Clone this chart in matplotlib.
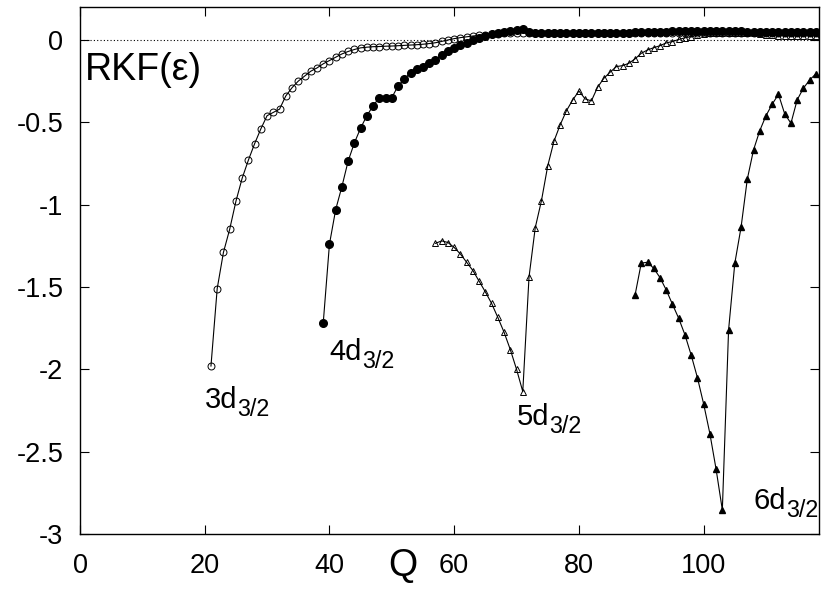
import numpy as np
import matplotlib
matplotlib.use('Agg')
import matplotlib.pyplot as plt

plt.rcParams['font.family'] = ['Liberation Sans', 'DejaVu Sans']

# 3d_{3/2}, Q = 21..118
q3 = np.arange(21, 119)
rkf3 = [-1.98, -1.51, -1.29, -1.15, -0.98, -0.84, -0.73, -0.63, -0.54, -0.46,
        -0.44, -0.42, -0.34, -0.29, -0.25, -0.22, -0.19, -0.17, -0.145, -0.125,
        -0.105, -0.085, -0.07, -0.058, -0.048, -0.044, -0.041, -0.040, -0.038, -0.037,
        -0.035, -0.033, -0.031, -0.029, -0.026, -0.022, -0.017, -0.009, 0.000, 0.008,
        0.014, 0.019, 0.024, 0.028, 0.032, 0.036, 0.039, 0.041, 0.042, 0.043,
        0.043, 0.043, 0.043, 0.043, 0.043, 0.043, 0.043, 0.043, 0.043, 0.043,
        0.043, 0.043, 0.043, 0.043, 0.043, 0.043, 0.043, 0.044, 0.044, 0.044,
        0.044, 0.044, 0.044, 0.044, 0.044, 0.044, 0.045, 0.045, 0.045, 0.045,
        0.045, 0.045, 0.045, 0.045, 0.045, 0.045, 0.045, 0.045, 0.045, 0.045,
        0.045, 0.045, 0.045, 0.045, 0.045, 0.045, 0.045, 0.045]

# 4d_{3/2}, Q = 39..118
q4 = np.arange(39, 119)
rkf4 = [-1.72, -1.24, -1.03, -0.89, -0.735, -0.625, -0.535, -0.46, -0.40, -0.35,
        -0.35, -0.35, -0.28, -0.237, -0.20, -0.178, -0.162, -0.142, -0.12, -0.09,
        -0.067, -0.05, -0.032, -0.018, -0.003, 0.012, 0.026, 0.036, 0.042, 0.047,
        0.052, 0.058, 0.066, 0.05, 0.045, 0.044, 0.044, 0.044, 0.044, 0.044,
        0.044, 0.044, 0.044, 0.044, 0.044, 0.044, 0.044, 0.044, 0.045, 0.045,
        0.046, 0.047, 0.048, 0.049, 0.050, 0.051, 0.052, 0.053, 0.054, 0.055,
        0.055, 0.056, 0.057, 0.057, 0.056, 0.055, 0.053, 0.052, 0.051, 0.051,
        0.050, 0.050, 0.050, 0.050, 0.050, 0.050, 0.050, 0.050, 0.050, 0.050]

# 5d_{3/2}, Q = 57..118
q5 = np.arange(57, 119)
rkf5 = [-1.235, -1.22, -1.23, -1.26, -1.30, -1.35, -1.40, -1.465, -1.53, -1.60,
        -1.685, -1.775, -1.88, -2.00, -2.135, -1.44, -1.14, -0.975, -0.765, -0.615,
        -0.515, -0.43, -0.365, -0.31, -0.358, -0.37, -0.287, -0.233, -0.196, -0.162,
        -0.156, -0.142, -0.115, -0.081, -0.061, -0.047, -0.035, -0.018, -0.01, 0.003,
        0.013, 0.02, 0.03, 0.035, 0.04, 0.042, 0.044, 0.045, 0.045, 0.044,
        0.042, 0.04, 0.035, 0.03, 0.027, 0.025, 0.024, 0.024, 0.024, 0.024,
        0.024, 0.024]

# 6d_{3/2}, Q = 89..118
q6 = np.arange(89, 119)
rkf6 = [-1.55, -1.355, -1.35, -1.387, -1.443, -1.518, -1.605, -1.69, -1.79, -1.913,
        -2.05, -2.21, -2.39, -2.607, -2.854, -1.761, -1.356, -1.138, -0.846, -0.668,
        -0.551, -0.46, -0.39, -0.33, -0.449, -0.506, -0.364, -0.293, -0.243, -0.206]

# label anchors (Q, RKF) and text
lab_pos = [(20.05, -2.235), (40.0, -1.943), (70.06, -2.338), (107.97, -2.848)]
lab_main = ['3d', '4d', '5d', '6d']
lab_sub = '3/2'

fig = plt.figure(figsize=(8.25, 5.89), dpi=100)
ax = fig.add_axes([80/825, 55/589, 739/825, 527/589])

ax.axhline(0, color='black', lw=0.8, ls=(0, (1, 2)), zorder=1)

ax.plot(q3, rkf3, '-o', color='black', lw=0.8, ms=5, mfc='none', mec='black', mew=0.7, zorder=3)
ax.plot(q5, rkf5, '-^', color='black', lw=0.8, ms=4.5, mfc='none', mec='black', mew=0.7, zorder=3)
ax.plot(q6, rkf6, '-^', color='black', lw=0.8, ms=4.5, mfc='black', mec='black', zorder=3)
ax.plot(q4, rkf4, '-o', color='black', lw=0.8, ms=5.5, mfc='black', mec='black', zorder=4)

ax.set_xlim(0, 118.5)
ax.set_ylim(-3, 0.2)
ax.set_xticks([0, 20, 40, 60, 80, 100])
ax.set_yticks([0, -0.5, -1, -1.5, -2, -2.5, -3])
ax.set_yticklabels(['0', '-0.5', '-1', '-1.5', '-2', '-2.5', '-3'])
ax.tick_params(direction='in', length=6.5, width=0.8, labelsize=19.5,
               top=True, right=True)
ax.tick_params(axis='x', pad=14)
ax.tick_params(axis='y', pad=12)
for s in ax.spines.values():
    s.set_linewidth(1.0)

ax.text(0.8, -0.18, 'RKF(ε)', fontsize=27, ha='left', va='center')
fig.text(403/825, 1 - 566/589, 'Q', fontsize=27, ha='center', va='center')

fs_main = 21
for (x, y), m in zip(lab_pos, lab_main):
    ax.text(x, y, m, fontsize=fs_main, ha='left', va='baseline')
    ax.annotate(lab_sub, (x, y), xytext=(1.112 * fs_main, -6), textcoords='offset points',
                fontsize=fs_main * 0.8, ha='left', va='baseline')

fig.savefig('out.png', dpi=100)
